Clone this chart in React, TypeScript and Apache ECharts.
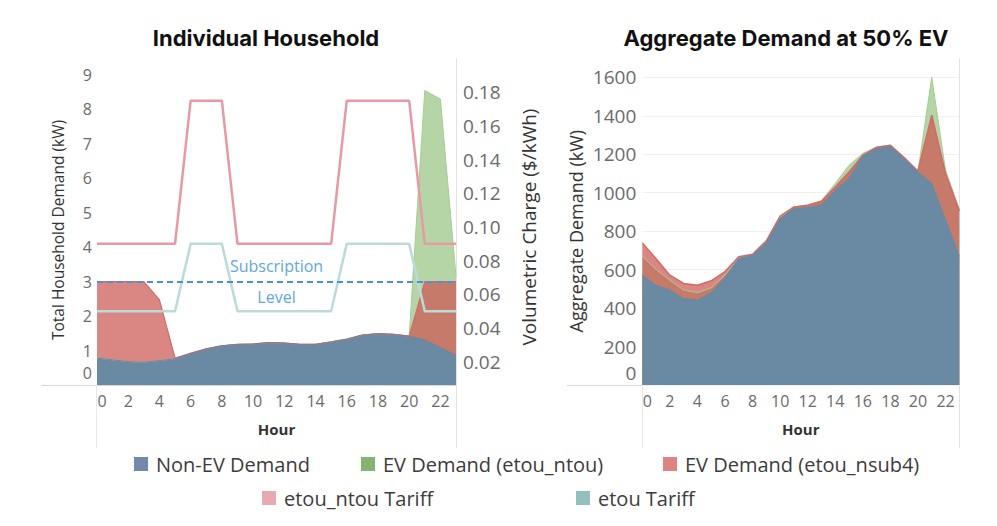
import React, { useEffect, useRef } from 'react';
import * as echarts from 'echarts';

const hours = ['0', '1', '2', '3', '4', '5', '6', '7', '8', '9', '10', '11', '12', '13', '14', '15', '16', '17', '18', '19', '20', '21', '22', '23'];

// Individual household (kW)
const houseNonEV = [0.78, 0.73, 0.68, 0.66, 0.71, 0.76, 0.92, 1.05, 1.14, 1.18, 1.19, 1.23, 1.22, 1.18, 1.18, 1.25, 1.33, 1.45, 1.49, 1.47, 1.42, 1.31, 1.09, 0.86];
const houseEvNtou = [0.78, 0.73, 0.68, 0.66, 0.71, 0.76, 0.92, 1.05, 1.14, 1.18, 1.19, 1.23, 1.22, 1.18, 1.18, 1.25, 1.33, 1.45, 1.49, 1.47, 1.42, 8.55, 8.3, 3.15];
const houseEvNsub4 = [3.0, 3.0, 3.0, 3.0, 2.47, 0.78, 0.92, 1.05, 1.14, 1.18, 1.19, 1.23, 1.22, 1.18, 1.18, 1.25, 1.33, 1.45, 1.49, 1.47, 1.42, 3.0, 3.0, 3.0];

// Tariffs ($/kWh)
const tariffNtou = [0.09, 0.09, 0.09, 0.09, 0.09, 0.09, 0.175, 0.175, 0.175, 0.09, 0.09, 0.09, 0.09, 0.09, 0.09, 0.09, 0.175, 0.175, 0.175, 0.175, 0.175, 0.09, 0.09, 0.09];
const tariffEtou = [0.05, 0.05, 0.05, 0.05, 0.05, 0.05, 0.09, 0.09, 0.09, 0.05, 0.05, 0.05, 0.05, 0.05, 0.05, 0.05, 0.09, 0.09, 0.09, 0.09, 0.09, 0.05, 0.05, 0.05];
const subscriptionLevel = 3;

// Aggregate demand at 50% EV (kW)
const aggNonEV = [571, 519, 494, 450, 442, 480, 558, 658, 675, 740, 866, 918, 923, 935, 1013, 1074, 1190, 1229, 1242, 1177, 1108, 1048, 860, 670];
const aggEvNtou = [670, 601, 545, 494, 480, 505, 572, 662, 677, 748, 872, 925, 936, 958, 1048, 1143, 1204, 1238, 1247, 1180, 1110, 1600, 1117, 915];
const aggEvNsub4 = [739, 656, 571, 528, 519, 542, 590, 667, 680, 750, 878, 926, 935, 956, 1030, 1108, 1195, 1235, 1247, 1183, 1113, 1403, 1100, 905];

const leftKwMax = 9;
const leftKwStep = 1;
const tariffMin = 0.02;
const tariffMax = 0.18;
const tariffStep = 0.02;
const aggMax = 1600;
const aggStep = 200;

const legendNames = ['Non-EV Demand', 'EV Demand (etou_ntou)', 'EV Demand (etou_nsub4)', 'etou_ntou Tariff', 'etou Tariff'];

const FONT = "'Open Sans', sans-serif";
const TICK = '#6b6b6b';

const C_BLUE = '#6a89a2';
const C_GREEN = '#8fbf77';
const C_RED = '#cc5753';
const L_COLORS = ['#7289ab', '#84b46d', '#dc8582', '#e8a9b0', '#93c0bc'];
const L_POS = [[129, 449], [356, 449], [658, 449], [257, 483], [571, 483]];

const xLabel = (fs: number) => ({
  interval: 1,
  margin: 8,
  fontSize: fs,
  color: TICK,
  fontFamily: FONT,
  formatter: (v: string) => (v === '0' ? '{a|0}' : v),
  rich: { a: { padding: [0, 0, 0, 10], fontSize: fs, color: TICK, fontFamily: FONT } },
});

const yLabel = (fs: number, margin: number) => ({
  margin,
  fontSize: fs,
  color: TICK,
  fontFamily: FONT,
  formatter: (v: number) => (v === 0 ? '{z|0}' : String(v)),
  rich: { z: { padding: [0, 0, 24, 0], fontSize: fs, color: TICK, fontFamily: FONT } },
});

const nameStyle = (fs: number) => ({ fontSize: fs, color: '#333', fontFamily: FONT });

const areaSeries = (name: string, data: number[], x: number, y: number, fill: string, op: number, stroke: string, lw: number, legendColor: string, extra: any = {}) => ({
  name,
  type: 'line',
  xAxisIndex: x,
  yAxisIndex: y,
  data,
  symbol: 'none',
  silent: true,
  itemStyle: { color: legendColor },
  lineStyle: { color: stroke, width: lw },
  areaStyle: { color: fill, opacity: op },
  ...extra,
});

export default function App() {
  const ref = useRef<HTMLDivElement>(null);
  useEffect(() => {
    if (!ref.current) return;
    const chart = echarts.init(ref.current, undefined, { renderer: 'svg' });
    const titleStyle = { fontSize: 22, fontWeight: 'bold', fontFamily: 'Inter, sans-serif', color: '#111' };
    const option: any = {
      animation: false,
      backgroundColor: '#ffffff',
      title: [
        { text: 'Individual Household', left: 261, top: 22, textAlign: 'center', textStyle: titleStyle },
        { text: 'Aggregate Demand at 50% EV', left: 781, top: 22, textAlign: 'center', textStyle: titleStyle },
      ],
      legend: legendNames.map((n, i) => ({
        left: L_POS[i][0], top: L_POS[i][1], itemWidth: 14, itemHeight: 14, icon: 'rect', selectedMode: false,
        textStyle: { fontSize: 20, color: '#3c3c3c', fontFamily: FONT, padding: [0, 0, 0, 3] },
        data: [{ name: n, itemStyle: { color: L_COLORS[i] } }],
      })),
      grid: [
        { left: 97, top: 75, width: 359, height: 310, outerBoundsMode: 'none' },
        { left: 97, top: 92.3, width: 359, height: 269.4, outerBoundsMode: 'none' },
        { left: 642.3, top: 77.3, width: 317, height: 307.7, outerBoundsMode: 'none' },
      ],
      xAxis: [
        {
          type: 'category', gridIndex: 0, data: hours, boundaryGap: false,
          axisLine: { show: false }, axisTick: { show: false }, splitLine: { show: false },
          axisLabel: xLabel(16),
          name: 'Hour', nameLocation: 'middle', nameGap: 36,
          nameTextStyle: { fontSize: 15, fontWeight: 'bold', color: '#333', fontFamily: FONT },
        },
        { type: 'category', gridIndex: 1, data: hours, boundaryGap: false, show: false },
        {
          type: 'category', gridIndex: 2, data: hours, boundaryGap: false,
          axisLine: { show: false }, axisTick: { show: false }, splitLine: { show: false },
          axisLabel: xLabel(16),
          name: 'Hour', nameLocation: 'middle', nameGap: 36,
          nameTextStyle: { fontSize: 15, fontWeight: 'bold', color: '#333', fontFamily: FONT },
        },
      ],
      yAxis: [
        {
          type: 'value', gridIndex: 0, min: 0, max: leftKwMax, interval: leftKwStep,
          axisLine: { show: false }, axisTick: { show: false }, splitLine: { show: false },
          axisLabel: yLabel(16, 5),
          name: 'Total Household Demand (kW)', nameLocation: 'middle', nameGap: 31, nameRotate: 90,
          nameTextStyle: nameStyle(15.5),
        },
        {
          type: 'value', gridIndex: 1, position: 'right', min: tariffMin, max: tariffMax, interval: tariffStep,
          axisLine: { show: false }, axisTick: { show: false }, splitLine: { show: false },
          axisLabel: { margin: 7, fontSize: 19, color: TICK, fontFamily: FONT, formatter: (v: number) => v.toFixed(2) },
          name: 'Volumetric Charge ($/kWh)', nameLocation: 'middle', nameGap: 63, nameRotate: 90,
          nameTextStyle: nameStyle(19),
        },
        {
          type: 'value', gridIndex: 2, min: 0, max: aggMax, interval: aggStep,
          axisLine: { show: false }, axisTick: { show: false },
          splitLine: { show: true, lineStyle: { color: '#f0f0f0', width: 1 } },
          axisLabel: yLabel(19, 6),
          name: 'Aggregate Demand (kW)', nameLocation: 'middle', nameGap: 57, nameRotate: 90,
          nameTextStyle: nameStyle(18),
        },
      ],
      series: [
        areaSeries(legendNames[1], houseEvNtou, 0, 0, C_GREEN, 0.65, '#a6cc93', 1, L_COLORS[1]),
        areaSeries(legendNames[2], houseEvNsub4, 0, 0, C_RED, 0.72, '#d06a66', 1.2, L_COLORS[2]),
        areaSeries(legendNames[0], houseNonEV, 0, 0, C_BLUE, 1, '#7a7f9a', 1, L_COLORS[0], {
          markLine: {
            silent: true,
            symbol: ['none', 'none'],
            lineStyle: { type: [6, 4], color: '#4a8fd8', width: 2 },
            label: {
              show: true, position: 'middle', formatter: 'Subscription\n\nLevel',
              color: '#62a6e2', fontSize: 16, lineHeight: 15.5, verticalAlign: 'middle', distance: 0,
              fontFamily: FONT,
            },
            data: [{ yAxis: subscriptionLevel }],
          },
        }),
        {
          name: legendNames[3], type: 'line', xAxisIndex: 1, yAxisIndex: 1, data: tariffNtou,
          symbol: 'none', silent: true, itemStyle: { color: L_COLORS[3] }, lineStyle: { color: '#e79aa3', width: 2.5 },
        },
        {
          name: legendNames[4], type: 'line', xAxisIndex: 1, yAxisIndex: 1, data: tariffEtou,
          symbol: 'none', silent: true, itemStyle: { color: L_COLORS[4] }, lineStyle: { color: '#b9dcd9', width: 2.5 },
        },
        areaSeries(legendNames[1], aggEvNtou, 2, 2, C_GREEN, 0.65, '#a6cc93', 1, L_COLORS[1]),
        areaSeries(legendNames[2], aggEvNsub4, 2, 2, C_RED, 0.72, '#d06a66', 1.5, L_COLORS[2]),
        areaSeries(legendNames[0], aggNonEV, 2, 2, C_BLUE, 1, C_BLUE, 1, L_COLORS[0]),
      ],
      graphic: [
        { type: 'line', silent: true, shape: { x1: 42, y1: 385.5, x2: 456, y2: 385.5 }, style: { stroke: '#d6d6d6', lineWidth: 1 } },
        { type: 'line', silent: true, shape: { x1: 96.5, y1: 385, x2: 96.5, y2: 448 }, style: { stroke: '#e8e8e8', lineWidth: 1 } },
        { type: 'line', silent: true, shape: { x1: 456.5, y1: 58, x2: 456.5, y2: 448 }, style: { stroke: '#e2e2e2', lineWidth: 1 } },
        { type: 'line', silent: true, shape: { x1: 567, y1: 385.5, x2: 959, y2: 385.5 }, style: { stroke: '#d6d6d6', lineWidth: 1 } },
        { type: 'line', silent: true, shape: { x1: 642.5, y1: 385, x2: 642.5, y2: 448 }, style: { stroke: '#e8e8e8', lineWidth: 1 } },
        { type: 'line', silent: true, shape: { x1: 959.5, y1: 58, x2: 959.5, y2: 448 }, style: { stroke: '#e2e2e2', lineWidth: 1 } },
      ],
    };
    chart.setOption(option);
    return () => chart.dispose();
  }, []);
  return <div ref={ref} style={{ position: 'fixed', left: 0, top: 0, width: '997px', height: '526px' }} />;
}
